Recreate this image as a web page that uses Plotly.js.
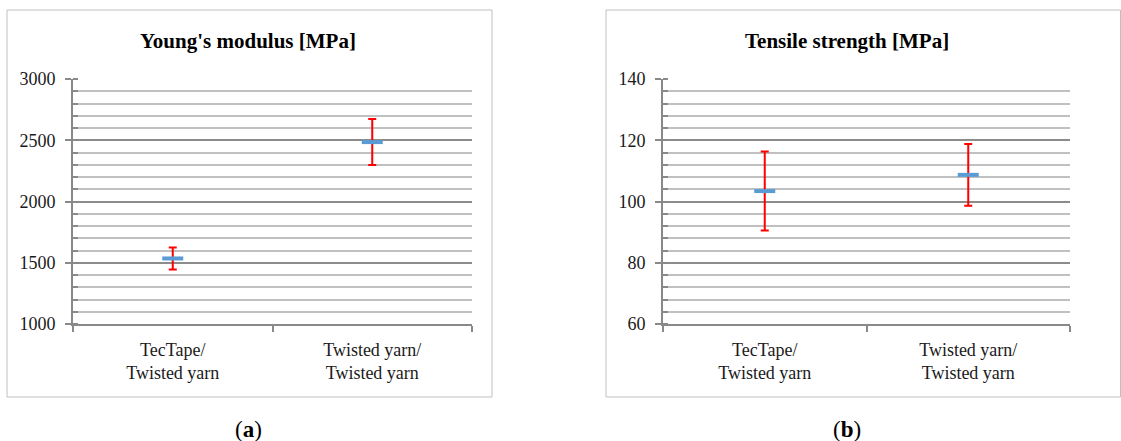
<!DOCTYPE html>
<html>
<head>
<meta charset="utf-8">
<script src="https://cdn.plot.ly/plotly-3.0.1.min.js"></script>
<style>html,body{margin:0;padding:0;background:#fff;}#chart{width:1121px;height:441px;}</style>
</head>
<body>
<div id="chart"></div>
<script>
var categories = ["TecTape/<br>Twisted yarn", "Twisted yarn/<br>Twisted yarn"];
var youngMean = [1535, 2485];
var youngErr = [90, 188];
var tensileMean = [103.4, 108.7];
var tensileErr = [12.9, 10.1];
var panelTitles = ["Young's modulus [MPa]", "Tensile strength [MPa]"];
var captions = ["(<b>a</b>)", "(<b>b</b>)"];

var W = 1121, H = 441;
function px(x){ return x / W; }
function py(y){ return 1 - y / H; }

var FONT = "Liberation Serif, serif";
var axisGray = "#898989";

function trace(y, err, xa, ya){
  return {
    type: "scatter", mode: "markers", x: categories, y: y, xaxis: xa, yaxis: ya,
    marker: {symbol: "line-ew", size: 15, color: "#5b9bd5", line: {color: "#5b9bd5", width: 4}},
    error_y: {type: "data", array: err, visible: true, color: "#ff0000", thickness: 2, width: 4},
    showlegend: false, hoverinfo: "x+y"
  };
}

function yax(range, dtick, minorDtick, domain, anchor){
  return {
    domain: domain, anchor: anchor, range: range, dtick: dtick, tick0: range[0],
    ticks: "outside", ticklen: 6, tickwidth: 2, tickcolor: axisGray,
    showline: true, linecolor: axisGray, linewidth: 2, zeroline: false,
    showgrid: true, gridcolor: "#8c8c8c", gridwidth: 2,
    ticklabelstandoff: 6,
    minor: {dtick: minorDtick, tick0: range[0], showgrid: true, gridcolor: "#c0c0c0", gridwidth: 2,
            ticks: "inside", ticklen: 5, tickwidth: 2, tickcolor: axisGray},
    tickfont: {family: FONT, size: 18, color: "#1a1a1a"}, fixedrange: true
  };
}
function xax(domain, anchor){
  return {
    domain: domain, anchor: anchor, type: "category", range: [-0.5, 1.5],
    tickson: "boundaries", ticks: "outside", ticklen: 6, tickwidth: 2, tickcolor: axisGray,
    showline: true, linecolor: axisGray, linewidth: 2, showgrid: false, zeroline: false,
    ticklabelstandoff: 8,
    tickfont: {family: FONT, size: 18, color: "#1a1a1a"}, fixedrange: true
  };
}

var yDom = [py(324), py(79)];
var layout = {
  width: W, height: H, margin: {l: 0, r: 0, t: 0, b: 0},
  paper_bgcolor: "#ffffff", plot_bgcolor: "#ffffff",
  xaxis: xax([px(73), px(472)], "y"),
  yaxis: yax([1000, 3000], 500, 100, yDom, "x"),
  xaxis2: xax([px(663), px(1070)], "y2"),
  yaxis2: yax([60, 140], 20, 4, yDom, "x2"),
  shapes: [
    {type: "rect", xref: "paper", yref: "paper", x0: px(7), x1: px(492), y0: py(397), y1: py(10), line: {color: "#c0c0c0", width: 1}, layer: "below"},
    {type: "rect", xref: "paper", yref: "paper", x0: px(606), x1: px(1120.5), y0: py(397), y1: py(10), line: {color: "#c0c0c0", width: 1}, layer: "below"}
  ],
  annotations: [
    {text: "<b>" + panelTitles[0] + "</b>", xref: "paper", yref: "paper", x: px(248), y: py(41), xanchor: "center", yanchor: "middle", showarrow: false, font: {family: FONT, size: 21, color: "#000"}},
    {text: "<b>" + panelTitles[1] + "</b>", xref: "paper", yref: "paper", x: px(847), y: py(41), xanchor: "center", yanchor: "middle", showarrow: false, font: {family: FONT, size: 21, color: "#000"}},
    {text: captions[0], xref: "paper", yref: "paper", x: px(248), y: py(429), xanchor: "center", yanchor: "middle", showarrow: false, font: {family: FONT, size: 23, color: "#000"}},
    {text: captions[1], xref: "paper", yref: "paper", x: px(847), y: py(429), xanchor: "center", yanchor: "middle", showarrow: false, font: {family: FONT, size: 23, color: "#000"}}
  ]
};

Plotly.newPlot("chart", [trace(youngMean, youngErr, "x", "y"), trace(tensileMean, tensileErr, "x2", "y2")], layout, {displayModeBar: false, staticPlot: true});
</script>
</body>
</html>
